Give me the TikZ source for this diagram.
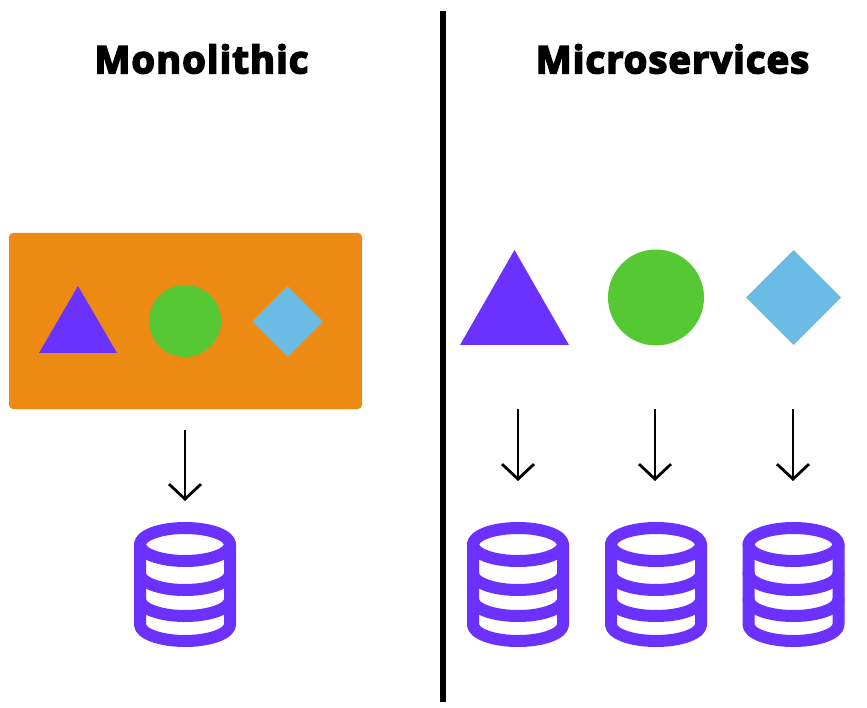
\documentclass[tikz,border=0pt]{standalone}
\usepackage{fontspec}
\setmainfont{Open Sans}[BoldFeatures={FakeBold=4.5,LetterSpace=3}]
\usetikzlibrary{arrows.meta}
\definecolor{vio}{HTML}{6A31FF}
\definecolor{grn}{HTML}{55C833}
\definecolor{sky}{HTML}{6BBCE4}
\definecolor{org}{HTML}{EC8A14}
\tikzset{
  titletext/.style={font=\bfseries\fontsize{38}{42}\selectfont,text=black,inner sep=0pt},
  flow/.style={draw=black,line width=2.8pt,-{Straight Barb[length=15pt,width=32pt,line width=2.8pt]}},
  dbline/.style={draw=vio,line width=12pt,line join=round,line cap=round},
  pics/dbicon/.style={code={
    \draw[dbline] (0,0) ellipse [x radius=45,y radius=16.5];
    \draw[dbline] (-45,0) -- (-45,80) arc[start angle=180,end angle=360,x radius=45,y radius=-16.5] -- (45,0);
    \draw[dbline] (-45,29) arc[start angle=180,end angle=360,x radius=45,y radius=-16.5];
    \draw[dbline] (-45,55) arc[start angle=180,end angle=360,x radius=45,y radius=-16.5];
  }}
}
\begin{document}
\begin{tikzpicture}[x=1pt,y=-1pt]
\useasboundingbox (0,0) rectangle (867,708);
\node[titletext] (tmono) at (201.5,59) {Monolithic};
\node[titletext] (tmicro) at (672.5,59) {Microservices};
\coordinate (divtop) at (443,11);
\coordinate (divbot) at (443,702);
\draw[line width=6pt,black] (divtop) -- (divbot);
% monolith
\fill[org,rounded corners=4pt] (9,233) rectangle (362,409);
\fill[vio] (78,286) -- (117,353) -- (39,353) -- cycle;
\fill[grn] (185,321) circle [radius=36];
\fill[sky] (287.5,286) -- (323,321.5) -- (287.5,357) -- (252,321.5) -- cycle;
% micro shapes
\fill[vio] (514.5,250) -- (569,345) -- (460,345) -- cycle;
\fill[grn] (656,297.5) circle [radius=48];
\fill[sky] (793.5,250) -- (841,297.5) -- (793.5,345) -- (746,297.5) -- cycle;
% databases
\pic at (185,544.5) {dbicon};
\pic at (518,544.5) {dbicon};
\pic at (656,544.5) {dbicon};
\pic at (793.5,544.5) {dbicon};
% connectors
\coordinate (a0s) at (185,430); \coordinate (a0e) at (185,501);
\coordinate (a1s) at (518,409); \coordinate (a1e) at (518,481);
\coordinate (a2s) at (655,409); \coordinate (a2e) at (655,481);
\coordinate (a3s) at (793,409); \coordinate (a3e) at (793,481);
\draw[flow] (a0s) -- (a0e);
\draw[flow] (a1s) -- (a1e);
\draw[flow] (a2s) -- (a2e);
\draw[flow] (a3s) -- (a3e);
\end{tikzpicture}
\end{document}
